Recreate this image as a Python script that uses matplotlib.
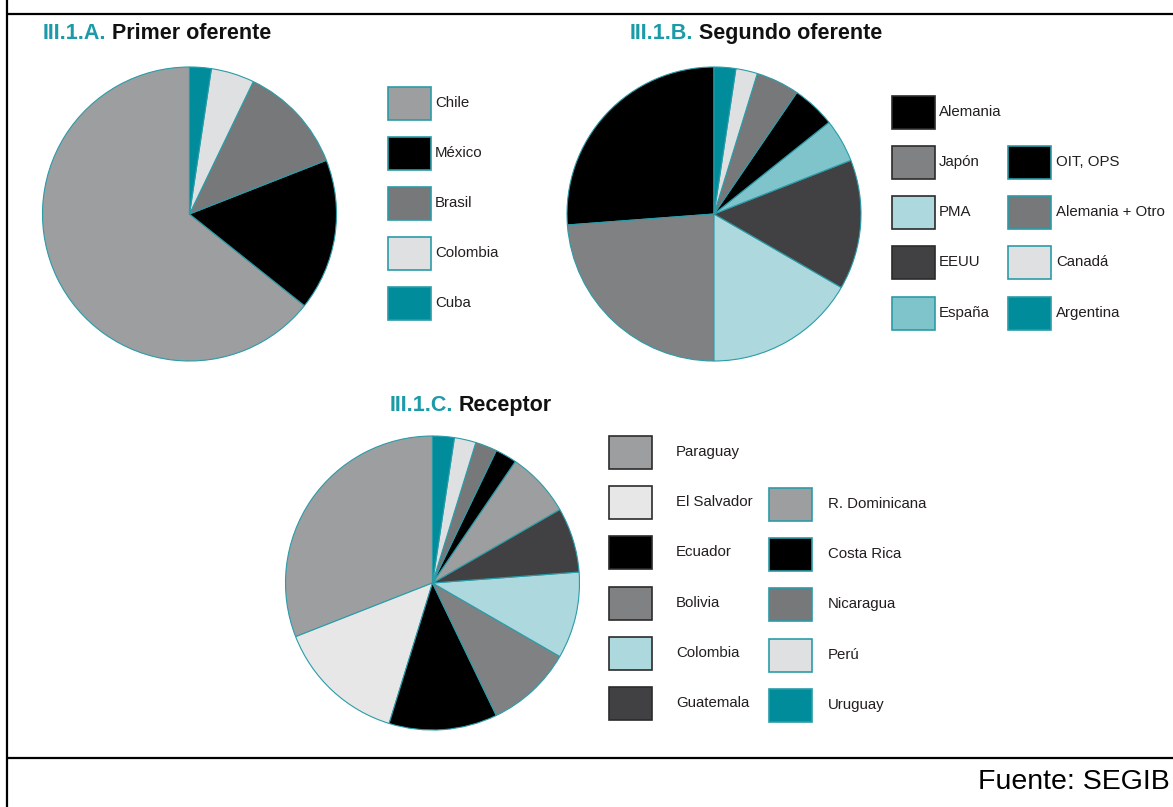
import matplotlib
matplotlib.use("Agg")
import matplotlib.pyplot as plt
from matplotlib.patches import Rectangle

# ---- data: number of triangular cooperation projects per actor ----
primer_labels = ["Chile", "México", "Brasil", "Colombia", "Cuba"]
primer_values = [27, 7, 5, 2, 1]

segundo_labels = ["Alemania", "Japón", "PMA", "EEUU", "España",
                  "OIT, OPS", "Alemania + Otro", "Canadá", "Argentina"]
segundo_values = [11, 10, 7, 6, 2, 2, 2, 1, 1]

receptor_labels = ["Paraguay", "El Salvador", "Ecuador", "Bolivia", "Colombia",
                   "Guatemala", "R. Dominicana", "Costa Rica", "Nicaragua",
                   "Perú", "Uruguay"]
receptor_values = [13, 6, 5, 4, 4, 3, 3, 1, 1, 1, 1]

# ---- palette ----
TEAL = "#008c9b"
TEAL_EDGE = "#2a9ca8"
DARK_EDGE = "#2b2b2b"
MID = "#9d9ea0"
DGREY = "#77787a"
GREY = "#808183"
LIGHT = "#dfe0e2"
PALE = "#e7e7e7"
LBLUE = "#acd8de"
MBLUE = "#7fc3cb"
CHAR = "#414143"
BLACK = "#000000"

primer_colors = [MID, BLACK, DGREY, LIGHT, TEAL]
segundo_colors = [BLACK, GREY, LBLUE, CHAR, MBLUE, BLACK, DGREY, LIGHT, TEAL]
receptor_colors = [MID, PALE, BLACK, GREY, LBLUE, CHAR, MID, BLACK, DGREY, LIGHT, TEAL]

W, H = 1173, 807
fig = plt.figure(figsize=(W / 100, H / 100), dpi=100)
ax = fig.add_axes([0, 0, 1, 1])

LABEL_FONT = ["Liberation Sans", "DejaVu Sans"]
TEXT_COLOR = "#231f20"


def Y(y):
    """Convert a top-down pixel row to the axes' bottom-up coordinate."""
    return H - y


def draw_pie(values, colors, cx, cy, r):
    ax.pie(values, colors=colors, startangle=90, counterclock=True,
           center=(cx, Y(cy)), radius=r,
           wedgeprops=dict(edgecolor=TEAL_EDGE, linewidth=0.8))


def legend_item(x, y, label, color, edge, w=43, h=33, tx=None):
    ax.add_patch(Rectangle((x, Y(y) - h / 2), w, h, facecolor=color,
                           edgecolor=edge, linewidth=1.2))
    ax.text(tx if tx is not None else x + w + 4, Y(y), label,
            fontsize=10.8, family=LABEL_FONT, color=TEXT_COLOR,
            va="center", ha="left")


def title(x, y, prefix, rest):
    t = ax.text(x, Y(y), prefix, fontsize=15.5, fontweight="bold",
                family=LABEL_FONT, color="#1b9aa8", va="baseline", ha="left")
    ax.annotate(rest, xy=(1, 0), xycoords=t, xytext=(4, 0),
                textcoords="offset points", fontsize=15.5, fontweight="bold",
                family=LABEL_FONT, color="#111111", va="bottom", ha="left")


# ---- pies ----
draw_pie(primer_values, primer_colors, 189.5, 214, 147)
draw_pie(segundo_values, segundo_colors, 714, 214, 147)
draw_pie(receptor_values, receptor_colors, 432.5, 583, 147)

# ---- titles ----
title(43, 39, "III.1.A.", "Primer oferente")
title(630, 39, "III.1.B.", "Segundo oferente")
title(390, 411, "III.1.C.", "Receptor")

# ---- legend: primer oferente ----
rows_a = [103, 153, 203, 253, 303]
for lab, col, ry in zip(primer_labels, primer_colors, rows_a):
    legend_item(388, ry, lab, col, TEAL_EDGE, tx=435)

# ---- legend: segundo oferente (two columns) ----
rows_b1 = [112, 162, 212, 262, 313]
edges_b1 = [DARK_EDGE, DARK_EDGE, DARK_EDGE, DARK_EDGE, TEAL_EDGE]
for lab, col, ry, ed in zip(segundo_labels[:5], segundo_colors[:5], rows_b1, edges_b1):
    legend_item(892, ry, lab, col, ed, tx=939)
rows_b2 = [162, 212, 262, 313]
for lab, col, ry in zip(segundo_labels[5:], segundo_colors[5:], rows_b2):
    legend_item(1008, ry, lab, col, TEAL_EDGE, tx=1056)

# ---- legend: receptor (two columns) ----
rows_c1 = [452, 502, 552, 603, 653, 703]
for lab, col, ry in zip(receptor_labels[:6], receptor_colors[:6], rows_c1):
    legend_item(609, ry, lab, col, DARK_EDGE, tx=676)
rows_c2 = [504, 554, 604, 655, 705]
for lab, col, ry in zip(receptor_labels[6:], receptor_colors[6:], rows_c2):
    legend_item(769, ry, lab, col, TEAL_EDGE, tx=828)

# ---- frame lines and source ----
ax.plot([7, 7], [Y(0), Y(H)], color="black", linewidth=1.6, solid_capstyle="butt")
ax.plot([7, W], [Y(14), Y(14)], color="black", linewidth=1.6, solid_capstyle="butt")
ax.plot([7, W], [Y(758), Y(758)], color="black", linewidth=1.6, solid_capstyle="butt")
ax.text(1170, Y(789), "Fuente: SEGIB", fontsize=20.5, family=LABEL_FONT,
        color="black", ha="right", va="baseline")

ax.set_xlim(0, W)
ax.set_ylim(0, H)
ax.set_aspect("auto")
ax.axis("off")

fig.savefig("out.png", dpi=100)
